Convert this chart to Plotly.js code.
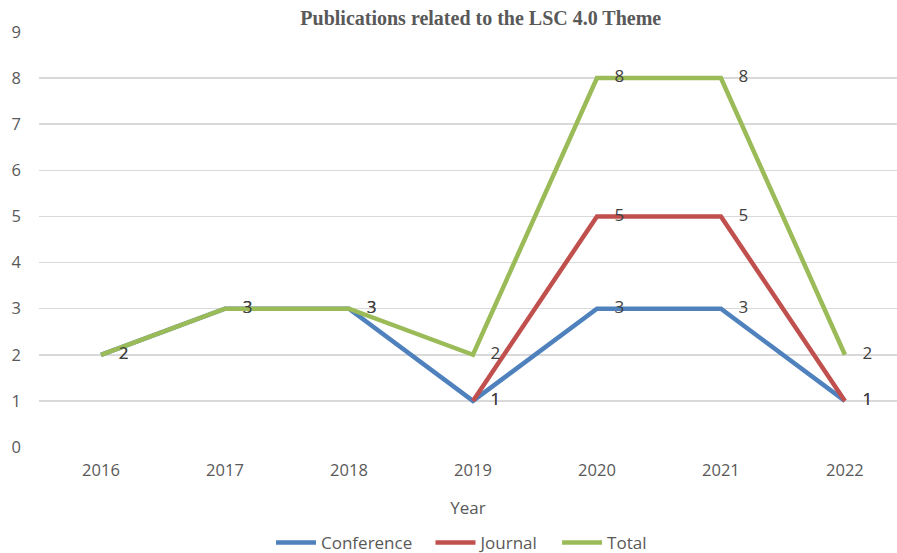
<!DOCTYPE html>
<html>
<head>
<meta charset="utf-8">
<script src="https://cdn.plot.ly/plotly-3.0.1.min.js"></script>
<style>html,body{margin:0;padding:0;background:#fff}#chart{width:897px;height:553px}</style>
</head>
<body>
<div id="chart"></div>
<script>
var years = ['2016', '2017', '2018', '2019', '2020', '2021', '2022'];
var conference = [2, 3, 3, 1, 3, 3, 1];
var journal = [null, null, null, 1, 5, 5, 1];
var total = [2, 3, 3, 2, 8, 8, 2];

var seriesNames = ['Conference', 'Journal', 'Total'];
var seriesColors = ['#4F81BD', '#C0504D', '#9BBB59'];
var seriesValues = [conference, journal, total];

var pad = '\u00a0\u00a0\u00a0\u00a0';
var legendPad = '\u00a0\u00a0\u00a0';

var traces = seriesValues.map(function (vals, i) {
  return {
    x: years,
    y: vals,
    name: seriesNames[i] + legendPad,
    type: 'scatter',
    mode: 'lines+text',
    line: {color: seriesColors[i], width: 4.5},
    text: vals.map(function (v) { return v === null ? '' : pad + String(v); }),
    textposition: 'middle right',
    textfont: {family: 'Open Sans, sans-serif', size: 17, color: '#404040'},
    cliponaxis: false,
    hoverinfo: 'skip',
    showlegend: true
  };
});

var layout = {
  width: 897,
  height: 553,
  margin: {l: 39, r: 0, t: 32, b: 106, autoexpand: false},
  paper_bgcolor: '#ffffff',
  plot_bgcolor: '#ffffff',
  title: {
    text: '<b>Publications related to the LSC 4.0 Theme</b>',
    font: {family: 'Liberation Serif, Times New Roman, serif', size: 20, color: '#595959'},
    x: 0.536, xanchor: 'center', y: 0.968, yanchor: 'middle'
  },
  xaxis: {
    type: 'category',
    range: [-0.5, 6.42],
    automargin: false,
    showgrid: false,
    zeroline: false,
    showline: false,
    ticks: '',
    ticklabelstandoff: 11,
    tickfont: {family: 'Open Sans, sans-serif', size: 16.5, color: '#595959'},
    title: {text: 'Year', font: {family: 'Open Sans, sans-serif', size: 17, color: '#595959'}, standoff: 22},
    fixedrange: true
  },
  yaxis: {
    range: [0, 9],
    dtick: 1,
    automargin: false,
    showgrid: true,
    gridcolor: '#d9d9d9',
    gridwidth: 1.5,
    zeroline: false,
    showline: false,
    ticks: '',
    ticklabelstandoff: 17,
    tickfont: {family: 'Open Sans, sans-serif', size: 16.5, color: '#595959'},
    fixedrange: true
  },
  legend: {
    orientation: 'h',
    x: 0.5, xanchor: 'center',
    y: -0.231, yanchor: 'middle',
    font: {family: 'Open Sans, sans-serif', size: 17, color: '#595959'},
    itemwidth: 40,
    traceorder: 'normal'
  },
  showlegend: true
};

Plotly.newPlot('chart', traces, layout, {displayModeBar: false, staticPlot: true});
</script>
</body>
</html>
